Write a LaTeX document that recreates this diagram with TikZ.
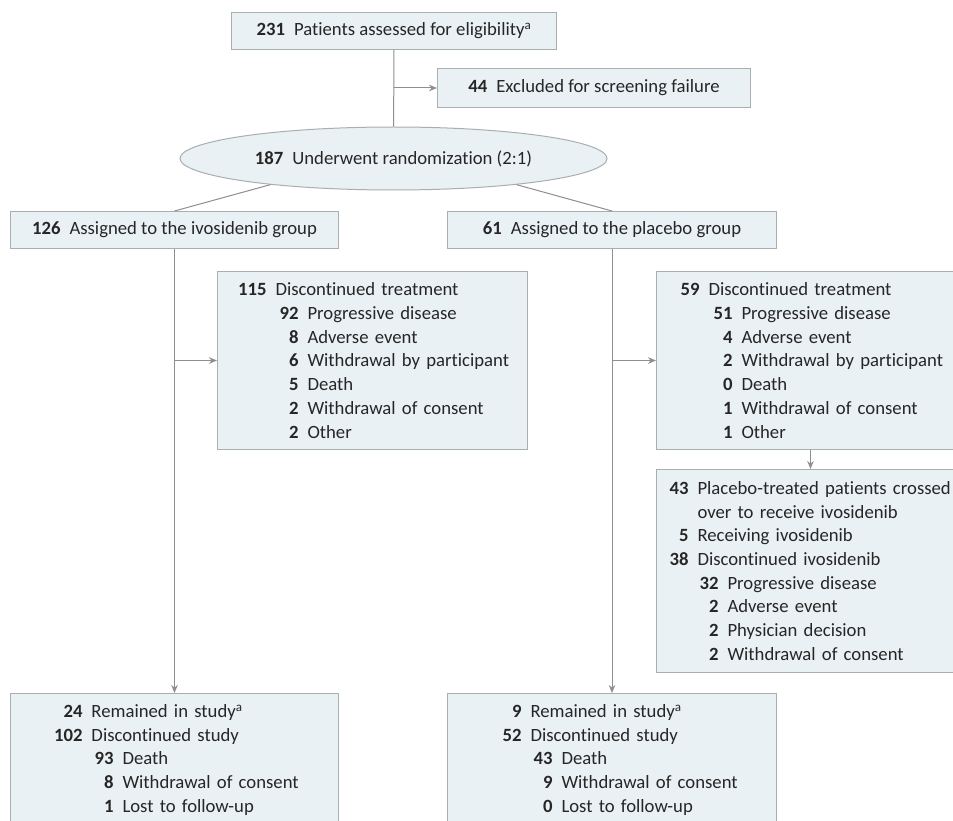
\documentclass[tikz,border=0pt]{standalone}
\usepackage{fontspec}
\setmainfont{Carlito}[Ligatures={NoCommon}]
\usetikzlibrary{arrows.meta,shapes.geometric}

\definecolor{boxfill}{HTML}{EAF1F4}
\definecolor{boxline}{HTML}{A9AEB0}
\definecolor{linkgray}{HTML}{8E8E8E}
\definecolor{textgray}{HTML}{262626}

\newcommand{\cnt}[1]{\textbf{#1}\hspace{9pt}}
\newcommand{\nrow}[3]{\makebox[#1pt][r]{\textbf{#2}}\hspace{9pt}#3}

\begin{document}
\begin{tikzpicture}[x=1pt, y=-1pt, >={Stealth[length=8pt, width=6.5pt]},
    font=\fontsize{18.7}{23.7}\selectfont, text=textgray,
    box/.style={draw=boxline, fill=boxfill, line width=1pt, anchor=north west, inner sep=0pt},
    listbox/.style={box, align=left},
    link/.style={draw=linkgray, line width=1pt}]

    \useasboundingbox (0,0) rectangle (953,821);
    \fill[white] (0,0) rectangle (953,821);
    \clip (0,0) rectangle (953,821);

    \node[box, minimum width=325, minimum height=37] (elig) at (231,12)
        {\cnt{231}Patients assessed for eligibility\textsuperscript{a}};
    \node[box, minimum width=313, minimum height=39] (excl) at (437,68)
        {\cnt{44}Excluded for screening failure};
    \node[ellipse, draw=boxline, fill=boxfill, line width=1pt, inner sep=0pt,
        minimum width=427, minimum height=63] (rand) at (393.5,158.5)
        {\cnt{187}Underwent randomization (2:1)};

    \node[box, minimum width=328, minimum height=37] (arm1) at (10,211)
        {\cnt{126}Assigned to the ivosidenib group};
    \node[box, minimum width=329, minimum height=37] (arm2) at (447,211)
        {\cnt{61}Assigned to the placebo group};

    \node[listbox, text width=310, minimum height=178] (drop1) at (217,271)
        {\nrow{49}{115}{Discontinued treatment}\\
         \nrow{81}{92}{Progressive disease}\\
         \nrow{81}{8}{Adverse event}\\
         \nrow{81}{6}{Withdrawal by participant}\\
         \nrow{81}{5}{Death}\\
         \nrow{81}{2}{Withdrawal of consent}\\
         \nrow{81}{2}{Other}};
    \node[listbox, text width=308, minimum height=178] (drop2) at (656,271)
        {\nrow{43}{59}{Discontinued treatment}\\
         \nrow{76}{51}{Progressive disease}\\
         \nrow{76}{4}{Adverse event}\\
         \nrow{76}{2}{Withdrawal by participant}\\
         \nrow{76}{0}{Death}\\
         \nrow{76}{1}{Withdrawal of consent}\\
         \nrow{76}{1}{Other}};
    \node[listbox, text width=308, minimum height=203] (cross) at (656,469)
        {\nrow{32}{43}{Placebo-treated patients crossed}\\
         \nrow{32}{}{over to receive ivosidenib}\\
         \nrow{32}{5}{Receiving ivosidenib}\\
         \nrow{32}{38}{Discontinued ivosidenib}\\
         \nrow{62}{32}{Progressive disease}\\
         \nrow{62}{2}{Adverse event}\\
         \nrow{62}{2}{Physician decision}\\
         \nrow{62}{2}{Withdrawal of consent}};

    \node[listbox, text width=328, minimum height=133] (end1) at (10,693)
        {\nrow{72}{24}{Remained in study\textsuperscript{a}}\\
         \nrow{72}{102}{Discontinued study}\\
         \nrow{103}{93}{Death}\\
         \nrow{103}{8}{Withdrawal of consent}\\
         \nrow{103}{1}{Lost to follow-up}};
    \node[listbox, text width=329, minimum height=133] (end2) at (447,693)
        {\nrow{74}{9}{Remained in study\textsuperscript{a}}\\
         \nrow{74}{52}{Discontinued study}\\
         \nrow{105}{43}{Death}\\
         \nrow{105}{9}{Withdrawal of consent}\\
         \nrow{105}{0}{Lost to follow-up}};

    \draw[link] (elig) -- (rand);
    \draw[link, ->] (elig.south |- excl.west) -- (excl.west);
    \draw[link] (rand.-168) -- (arm1.north);
    \draw[link] (rand.-12) -- (arm2.north);

    \draw[link, ->] (arm1) -- (end1);
    \draw[link, ->] (arm1.south |- drop1.west) -- (drop1.west);
    \draw[link, ->] (arm2) -- (end2);
    \draw[link, ->] (arm2.south |- drop2.west) -- (drop2.west);
    \draw[link, ->] (drop2) -- (cross);

\end{tikzpicture}
\end{document}
